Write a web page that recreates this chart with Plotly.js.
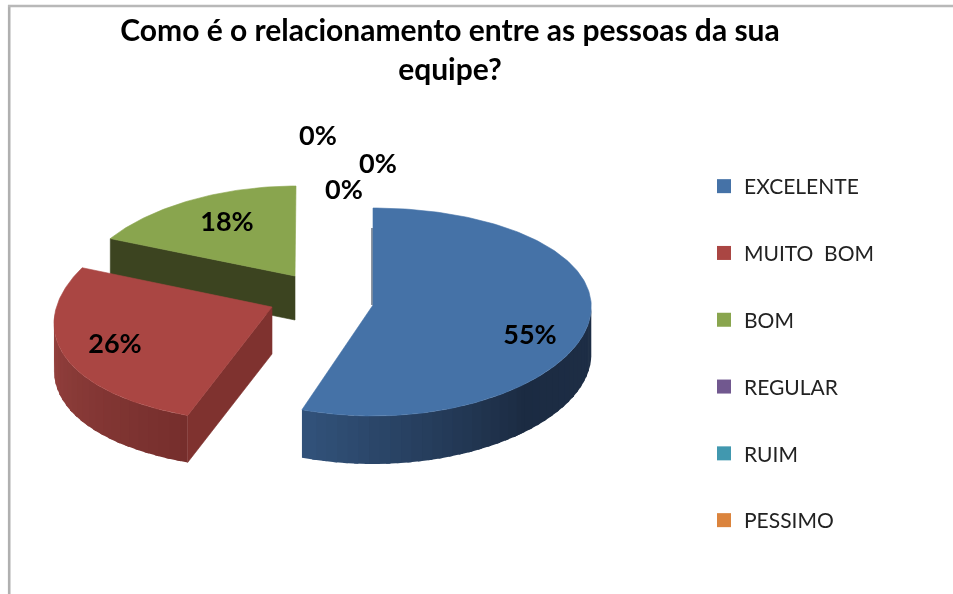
<!DOCTYPE html>
<html><head><meta charset="utf-8">
<script src="https://cdn.plot.ly/plotly-3.0.1.min.js"></script>
<style>html,body{margin:0;padding:0;background:#fff}#c{width:953px;height:594px;filter:blur(0.45px)}</style>
</head><body><div id="c"></div>
<script>
const categories = ['EXCELENTE', 'MUITO  BOM', 'BOM', 'REGULAR', 'RUIM', 'PESSIMO'];
const percentages = [55, 26, 18, 0, 0, 0];
const titleText = 'Como é o relacionamento entre as pessoas da sua<br>equipe?';

// styles
const topColors = ['#4572A7', '#AA4643', '#89A54E', '#71588F', '#4198AF', '#DB843D'];
// layout of the tilted, exploded pie, in pixels
const arcCx = [373, 267, 296], arcCy = [312, 313, 276];
const radX = [218, 212, 213], radY = [104, 109, 90];
const apexX = [373, 272, 295], apexY = [305, 307, 276];
const depth = [48, 47, 44], warp = [-0.05, 0.1, 0.1];
const labelX = [530, 115, 227, 344, 378, 318], labelY = [337, 346, 224, 192, 166, 138];

const total = percentages.reduce((a, b) => a + b, 0);
const traces = [];
const rad = d => d * Math.PI / 180;
function rim(i, deg) {
  const s = Math.sin(rad(deg)), c = Math.cos(rad(deg));
  return [arcCx[i] + radX[i] * s * (1 - warp[i] * c), arcCy[i] - radY[i] * c];
}
function poly(xs, ys, color, extra, w) {
  traces.push(Object.assign({x: xs, y: ys, type: 'scatter', mode: 'lines', fill: 'toself', fillcolor: color,
    line: {color: color, width: w === undefined ? 0.6 : w}, hoverinfo: 'skip', showlegend: false}, extra || {}));
}
function mix(a, b, t) { return 'rgb(' + a.map((v, k) => Math.round(v + (b[k] - v) * t)).join(',') + ')'; }
// side wall, painted as narrow strips from angle a to angle b, each overlapping the next one
function strip(i, a, b, c0, c1) {
  const n = Math.max(2, Math.round(Math.abs(b - a) / 3));
  for (let k = n - 1; k >= 0; k--) {
    const t1 = Math.min(1, (k + 1.4) / n);
    const d0 = a + (b - a) * k / n, d1 = a + (b - a) * t1;
    const m = [];
    for (let j = 0; j <= 4; j++) m.push(rim(i, d0 + (d1 - d0) * j / 4));
    const xs = m.map(q => q[0]).concat(m.slice().reverse().map(q => q[0]));
    const ys = m.map(q => q[1]).concat(m.slice().reverse().map(q => q[1] + depth[i]));
    xs.push(xs[0]); ys.push(ys[0]);
    poly(xs, ys, mix(c0, c1, (k + .5) / n), null, 0);
  }
}
// cumulative slice angles from the values
const startDeg = [], endDeg = [];
let run = 0;
percentages.forEach((v, i) => { startDeg[i] = run / total * 360; run += v; endDeg[i] = run / total * 360; });

function face(i) {
  const xs = [apexX[i]], ys = [apexY[i]];
  for (let d = startDeg[i]; d < endDeg[i]; d += 1) { const p = rim(i, d); xs.push(p[0]); ys.push(p[1]); }
  const e = rim(i, endDeg[i]); xs.push(e[0], apexX[i]); ys.push(e[1], apexY[i]);
  poly(xs, ys, topColors[i], {name: categories[i]});
}
function cut(i, deg, color) {
  const p = rim(i, deg);
  poly([apexX[i], p[0], p[0], apexX[i], apexX[i]],
       [apexY[i], p[1], p[1] + depth[i], apexY[i] + depth[i], apexY[i]], color);
}
// green slice (back)
cut(2, startDeg[2], '#3C4420');
face(2);
// red slice
strip(1, 270, startDeg[1], [150,66,63], [117,46,44]);
cut(1, startDeg[1], '#7F322F');
face(1);
// blue slice
const b0 = rim(0, 0);
traces.push({x: [b0[0] - 1, apexX[0] - 1], y: [b0[1] + 20, apexY[0]], type: 'scatter', mode: 'lines',
  line: {color: '#1B2B42', width: 1}, hoverinfo: 'skip', showlegend: false});
strip(0, 138, 88, [27,43,66], [30,46,70]);
strip(0, endDeg[0], 135, [50,82,122], [27,43,66]);
face(0);

// value labels
traces.push({x: labelX, y: labelY, type: 'scatter', mode: 'text',
  text: percentages.map(v => v + '%'), textposition: 'middle center',
  textfont: {family: 'Lato, sans-serif', size: 27, color: '#000', weight: 700},
  hoverinfo: 'skip', showlegend: false});

// legend entries
categories.forEach((c, i) => traces.push({x: [null], y: [null], type: 'scatter', mode: 'markers', name: c,
  legendgroup: c, marker: {symbol: 'square', size: 14, color: topColors[i]}, hoverinfo: 'skip'}));

const layout = {
  width: 953, height: 594, margin: {l: 0, r: 0, t: 0, b: 0},
  paper_bgcolor: '#fff', plot_bgcolor: '#fff',
  xaxis: {range: [0, 953], visible: false, fixedrange: true},
  yaxis: {range: [594, 0], visible: false, fixedrange: true},
  title: {text: titleText, x: 450 / 953, xanchor: 'center', y: 1 - 41 / 594, yanchor: 'middle',
    font: {family: 'Lato, sans-serif', size: 30, color: '#000', weight: 700}},
  legend: {x: 704 / 953, xanchor: 'left', y: 1 - 166 / 594, yanchor: 'top', traceorder: 'grouped', tracegroupgap: 36.5,
    font: {family: 'Lato, sans-serif', size: 21, color: '#222'}, bgcolor: 'rgba(0,0,0,0)', itemclick: false, itemdoubleclick: false},
  shapes: [
    {type: 'line', xref: 'paper', yref: 'paper', x0: 9.2 / 953, x1: 9.2 / 953, y0: 0, y1: 1 - 5 / 594, line: {color: '#B0B0B0', width: 2.6}},
    {type: 'line', xref: 'paper', yref: 'paper', x0: 8 / 953, x1: 1, y0: 1 - 6 / 594, y1: 1 - 6 / 594, line: {color: '#B8B8B8', width: 2.4}}
  ],
  showlegend: true
};
Plotly.newPlot('c', traces, layout, {displayModeBar: false});
</script></body></html>
